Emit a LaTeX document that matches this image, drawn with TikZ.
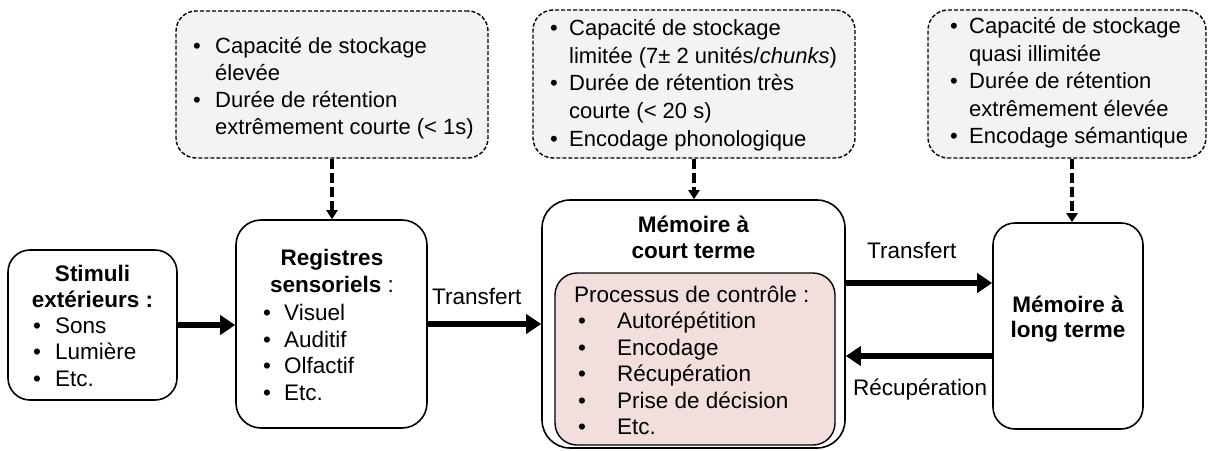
\documentclass[tikz,border=0pt]{standalone}
\usepackage{fontspec}
\setmainfont{Liberation Sans}
\usetikzlibrary{arrows.meta,calc}

\definecolor{notefill}{RGB}{243,243,243}
\definecolor{procfill}{RGB}{242,222,220}

\newcommand\mainsize{\fontsize{22.5}{26.5}\selectfont}
\newcommand\notesize{\fontsize{22}{27}\selectfont}

\begin{document}
\begin{tikzpicture}[x=1pt,y=-1pt,
  box/.style={draw=black, line width=1.6pt, rounded corners=22pt, fill=white, inner sep=0pt},
  note/.style={draw=black, line width=1.4pt, dash pattern=on 4pt off 2pt, rounded corners=20pt, fill=notefill, inner sep=0pt},
  proc/.style={draw=black, line width=1.4pt, rounded corners=22pt, fill=procfill, inner sep=0pt},
  item/.style={inner sep=0pt, anchor=base west, font=\mainsize},
  head/.style={inner sep=0pt, anchor=base, font=\mainsize\bfseries},
  noteitem/.style={inner sep=0pt, anchor=base west, font=\notesize},
  big/.style={line width=6pt, -{Triangle[length=15pt,width=19pt]}},
  link/.style={line width=3.6pt, dash pattern=on 10pt off 4pt, -{Triangle[length=9pt,width=11pt]}}
]
\useasboundingbox (0,0) rectangle (1210,450);

% ---------- main boxes ----------
\node[box, minimum width=169pt, minimum height=150pt] (stim) at (92.5,325) {};
\node[box, minimum width=191pt, minimum height=208pt, rounded corners=25pt] (reg) at (331.5,324) {};
\node[box, minimum width=303pt, minimum height=248pt, rounded corners=28pt] (mct) at (693.5,324) {};
\node[proc, minimum width=280pt, minimum height=172pt] (proc) at (695,359) {};
\node[box, minimum width=150pt, minimum height=206pt] (mlt) at (1068,326) {};

% ---------- property notes ----------
\node[note, minimum width=312pt, minimum height=147pt] (note1) at (332,84.5) {};
\node[note, minimum width=322pt, minimum height=148pt] (note2) at (694,84) {};
\node[note, minimum width=278pt, minimum height=148pt] (note3) at (1067,84) {};

% ---------- stimuli ----------
\node[head] (stim-h1) at (92.5,281) {Stimuli};
\node[head] (stim-h2) at (92.5,307) {extérieurs :};
\foreach \t/\y [count=\i] in {Sons/333, Lumière/359.5, Etc./386} {
  \node[item] (stim-b\i) at (33,\y) {\textbullet};
  \node[item] (stim-t\i) at (55,\y) {\t};
}

% ---------- sensory registers ----------
\node[head] (reg-h1) at (332,265) {Registres};
\node[head] (reg-h2) at (332,292) {sensoriels \mdseries:};
\foreach \t/\y [count=\i] in {Visuel/320, Auditif/347, Olfactif/373.5, Etc./400} {
  \node[item] (reg-b\i) at (263,\y) {\textbullet};
  \node[item] (reg-t\i) at (284,\y) {\t};
}

% ---------- short-term memory ----------
\node[head] (mct-h1) at (693.5,232) {Mémoire à};
\node[head] (mct-h2) at (693.5,258) {court terme};
\node[item] (proc-h) at (574,302) {Processus de contrôle :};
\foreach \t/\y [count=\i] in {Autorépétition/328, Encodage/355, Récupération/381.5, Prise de décision/408, Etc./434.5} {
  \node[item] (proc-b\i) at (578,\y) {\textbullet};
  \node[item] (proc-t\i) at (617,\y) {\t};
}

% ---------- long-term memory ----------
\node[head] (mlt-h1) at (1068,312) {Mémoire à};
\node[head] (mlt-h2) at (1068,337) {long terme};

% ---------- note texts ----------
\node[noteitem] (n1-b1) at (193,53) {\textbullet};
\node[noteitem] (n1-t1) at (215,53) {Capacité de stockage};
\node[noteitem] (n1-t2) at (215,80) {élevée};
\node[noteitem] (n1-b2) at (193,107) {\textbullet};
\node[noteitem] (n1-t3) at (215,107) {Durée de rétention};
\node[noteitem] (n1-t4) at (215,134) {extrêmement courte (< 1s)};

\node[noteitem] (n2-b1) at (550,35) {\textbullet};
\node[noteitem] (n2-t1) at (569,35) {Capacité de stockage};
\node[noteitem] (n2-t2) at (569,63) {limitée (7± 2 unités/\textit{chunks})};
\node[noteitem] (n2-b2) at (550,90) {\textbullet};
\node[noteitem] (n2-t3) at (569,90) {Durée de rétention très};
\node[noteitem] (n2-t4) at (569,118) {courte (< 20 s)};
\node[noteitem] (n2-b3) at (550,146) {\textbullet};
\node[noteitem] (n2-t5) at (569,146) {Encodage phonologique};

\node[noteitem] (n3-b1) at (950,33) {\textbullet};
\node[noteitem] (n3-t1) at (969,33) {Capacité de stockage};
\node[noteitem] (n3-t2) at (969,61) {quasi illimitée};
\node[noteitem] (n3-b2) at (950,88) {\textbullet};
\node[noteitem] (n3-t3) at (969,88) {Durée de rétention};
\node[noteitem] (n3-t4) at (969,116) {extrêmement élevée};
\node[noteitem] (n3-b3) at (950,143) {\textbullet};
\node[noteitem] (n3-t5) at (969,143) {Encodage sémantique};

% ---------- flow arrows ----------
\draw[big] (stim.east) -- (stim.east -| reg.west);
\draw[big] (reg.east) -- (reg.east -| mct.west);
\draw[big] ($(mct.east)+(0,-41)$) coordinate (tr2) -- (tr2 -| mlt.west);
\draw[big] ($(mlt.west)+(0,30)$) coordinate (rc) -- (rc -| mct.east);

\node[item] (lab-tr1) at (432,304) {Transfert};
\node[item] (lab-tr2) at (867,258) {Transfert};
\node[item] (lab-rc) at (853,395) {Récupération};

% ---------- note links ----------
\draw[link] (note1.south) -- (note1.south |- reg.north);
\draw[link] (note2.south) -- (note2.south |- mct.north);
\draw[link] ($(note3.south)+(5,0)$) coordinate (n3s) -- (n3s |- mlt.north);
\end{tikzpicture}
\end{document}
